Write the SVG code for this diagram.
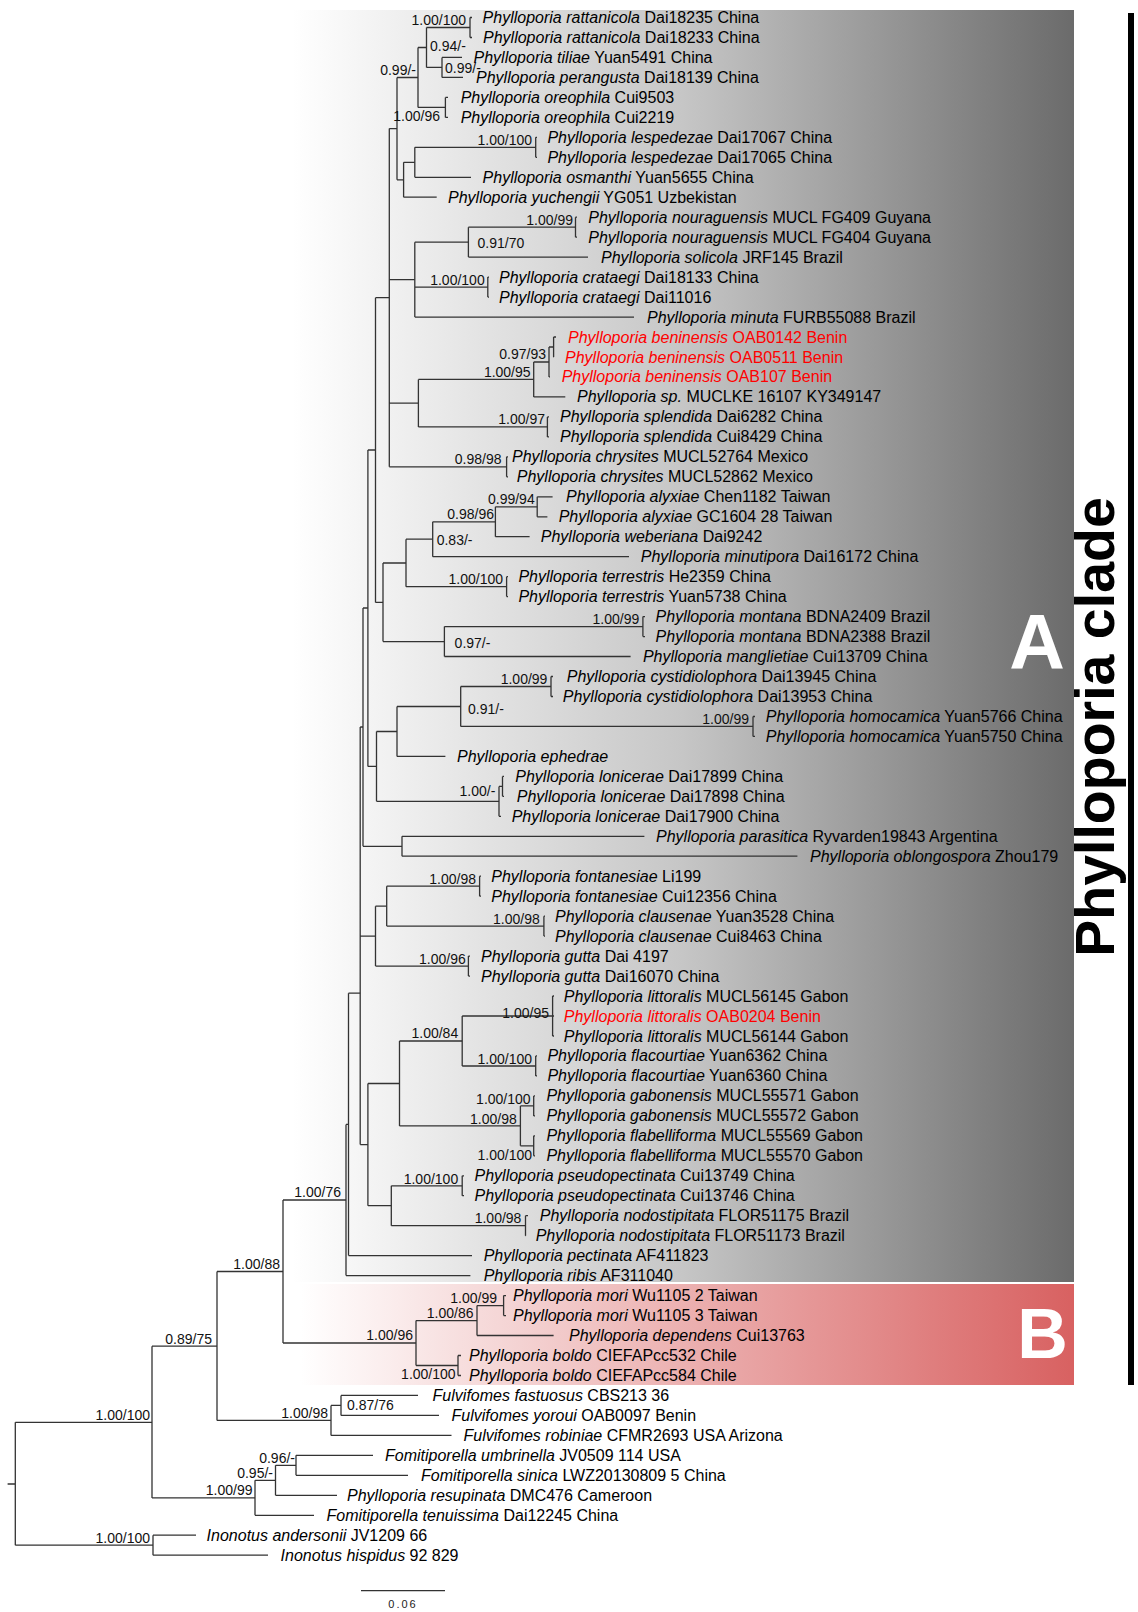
<svg xmlns="http://www.w3.org/2000/svg" width="1138" height="1612" viewBox="0 0 1138 1612">
<defs>
<linearGradient id="gA" x1="292" y1="0" x2="1074" y2="0" gradientUnits="userSpaceOnUse">
<stop offset="0" stop-color="#ffffff"/><stop offset="0.5" stop-color="#c6c6c6"/><stop offset="1" stop-color="#6b6b6b"/>
</linearGradient>
<linearGradient id="gB" x1="300" y1="0" x2="1074" y2="0" gradientUnits="userSpaceOnUse">
<stop offset="0" stop-color="#ffffff"/><stop offset="1" stop-color="#d86161"/>
</linearGradient>
<style>
.lf{font-family:"Liberation Sans",Arial,sans-serif;font-size:16px;fill:#000}
.sp{font-style:italic}
.red{fill:#ff0000}
.bs{font-family:"Liberation Sans",Arial,sans-serif;font-size:14px;fill:#111}
.be{text-anchor:end}
.br{fill:none;stroke:#333;stroke-width:1.3}
.big{font-family:"Liberation Sans",Arial,sans-serif;font-weight:bold;fill:#fff}
</style>
</defs>
<rect width="1138" height="1612" fill="#fff"/>
<g id="clade-boxes">
<rect x="292" y="10" width="782" height="1272" fill="url(#gA)"/>
<rect x="300" y="1284" width="774" height="101" fill="url(#gB)"/>
<text class="big" x="1037" y="669" font-size="77" text-anchor="middle">A</text>
<text class="big" x="1042.5" y="1358" font-size="70" text-anchor="middle">B</text>
<rect x="1128" y="13" width="6" height="1372" fill="#000"/>
<text x="1114" y="727" transform="rotate(-90 1114 727)" text-anchor="middle" font-family="Liberation Sans,Arial,sans-serif" font-weight="bold" font-size="55.5" fill="#000">Phylloporia clade</text>
</g>
<g id="connectors" class="br">
<path d="M7.6,1484H15.3M15.3,1422.3V1545.2M15.3,1422.3H152M15.3,1545.2H153"/>
<path d="M153,1535.2V1555.2M153,1535.2H196M153,1555.2H268"/>
<path d="M152,1346.2V1497.9M152,1346.2H217M152,1497.9H255"/>
<path d="M255,1480.3V1515.3M255,1480.3H275.5M255,1515.3H314"/>
<path d="M275.5,1465.3V1495.3M275.5,1465.3H296M275.5,1495.3H337"/>
<path d="M296,1455.3V1475.3M296,1455.3H373M296,1475.3H408"/>
<path d="M217,1271.5V1420.4M217,1271.5H283M217,1420.4H331"/>
<path d="M331,1405.4V1435.4M331,1405.4H341M331,1435.4H451.5"/>
<path d="M341,1395.4V1415.4M341,1395.4H418M341,1415.4H439"/>
<path d="M283,1200V1343M283,1200H346M283,1343H416"/>
<path d="M416,1320.6V1365.5M416,1320.6H477M416,1365.5H458"/>
<path d="M477,1305.6V1335.5M477,1305.6H503.6M477,1335.5H553.6"/>
<path d="M503.6,1295.6V1315.6M503.6,1295.6H506M503.6,1315.6H506"/>
<path d="M458,1355.5V1375.5M458,1355.5H461M458,1375.5H461"/>
<path d="M346,1124.4V1275.6M346,1124.4H348.5M346,1275.6H470.4"/>
<path d="M348.5,993.2V1255.6M348.5,993.2H360.2M348.5,1255.6H472"/>
<path d="M360.2,727V1144.6M360.2,727H363M360.2,936.2H375.5M360.2,1144.6H367.9"/>
<path d="M367.9,1083.5V1205.7M367.9,1083.5H399.5M367.9,1205.7H391.3"/>
<path d="M399.5,1041V1125.9M399.5,1041H462.2M399.5,1125.9H520.4"/>
<path d="M462.2,1016V1066M462.2,1016H552.6M462.2,1066H535.7"/>
<path d="M552.6,996V1036M552.6,996H554M552.6,1016H554M552.6,1036H554"/>
<path d="M535.7,1055.9V1075.9M535.7,1055.9H537M535.7,1075.9H537"/>
<path d="M520.4,1105.9V1145.8M520.4,1105.9H533.7M520.4,1145.8H533.7"/>
<path d="M533.7,1095.9V1115.9M533.7,1095.9H535M533.7,1115.9H535"/>
<path d="M533.7,1135.8V1155.8M533.7,1135.8H535M533.7,1155.8H535"/>
<path d="M391.3,1185.8V1225.7M391.3,1185.8H462.2M391.3,1225.7H525.5"/>
<path d="M462.2,1175.8V1195.7M462.2,1175.8H464M462.2,1195.7H464"/>
<path d="M525.5,1215.7V1235.7M525.5,1215.7H528M525.5,1235.7H526"/>
<path d="M375.5,906.2V966.1M375.5,906.2H386.7M375.5,966.1H468.4"/>
<path d="M386.7,886.2V926.1M386.7,886.2H479.6M386.7,926.1H543.9"/>
<path d="M479.6,876.2V896.2M479.6,876.2H481M479.6,896.2H481"/>
<path d="M543.9,916.2V936.1M543.9,916.2H545M543.9,936.1H545"/>
<path d="M468.4,956.1V976.1M468.4,956.1H470M468.4,976.1H470"/>
<path d="M363,608V846.3M363,608H367.9M363,846.3H402"/>
<path d="M402,836.3V856.2M402,836.3H644.4M402,856.2H797.4"/>
<path d="M367.9,450V766.4M367.9,450H375.5M367.9,766.4H376.5"/>
<path d="M376.5,731.5V801.3M376.5,731.5H397M376.5,801.3H499"/>
<path d="M397,706.5V756.4M397,706.5H460.7M397,756.4H445.4"/>
<path d="M460.7,686.5V726.4M460.7,686.5H551M460.7,726.4H753"/>
<path d="M551,676.5V696.5M551,676.5H553M551,696.5H553"/>
<path d="M753,716.5V736.4M753,716.5H755M753,736.4H755"/>
<path d="M499,786.4V816.3M499,786.4H502.5M499,816.3H501"/>
<path d="M502.5,776.4V796.3M502.5,776.4H504M502.5,796.3H504"/>
<path d="M375.5,297.7V602.4M375.5,297.7H389.3M375.5,602.4H383"/>
<path d="M383,563V641.6M383,563H406M383,641.6H444.4"/>
<path d="M406,539.2V586.7M406,539.2H432.7M406,586.7H506.6"/>
<path d="M432.7,521.8V556.7M432.7,521.8H495.4M432.7,556.7H629"/>
<path d="M495.4,506.8V536.7M495.4,506.8H537.2M495.4,536.7H529.6"/>
<path d="M537.2,496.8V516.8M537.2,496.8H552.6M537.2,516.8H547.4"/>
<path d="M506.6,576.7V596.6M506.6,576.7H508M506.6,596.6H508"/>
<path d="M444.4,626.6V656.5M444.4,626.6H642.9M444.4,656.5H630.6"/>
<path d="M642.9,616.6V636.6M642.9,616.6H645M642.9,636.6H645"/>
<path d="M389.3,128.6V466.8M389.3,128.6H397M389.3,279.6H414.8M389.3,403.2H418.4M389.3,466.8H506.6"/>
<path d="M397,77.5V179.8M397,77.5H418M397,179.8H403.6"/>
<path d="M403.6,162.3V197.2M403.6,162.3H414.8M403.6,197.2H436.7"/>
<path d="M414.8,147.3V177.3M414.8,147.3H535.7M414.8,177.3H471"/>
<path d="M535.7,137.3V157.3M535.7,137.3H537M535.7,157.3H537"/>
<path d="M418,47.5V107.4M418,47.5H426.5M418,107.4H445.4"/>
<path d="M426.5,27.5V67.4M426.5,27.5H470M426.5,67.4H442"/>
<path d="M470,17.5V37.5M470,17.5H472M470,37.5H472"/>
<path d="M442,57.4V77.4M442,57.4H462M442,77.4H463"/>
<path d="M445.4,97.4V117.4M445.4,97.4H448M445.4,117.4H448"/>
<path d="M414.8,242.2V317.1M414.8,242.2H468.4M414.8,287.1H487.8M414.8,317.1H634"/>
<path d="M468.4,227.2V257.1M468.4,227.2H575.5M468.4,257.1H588"/>
<path d="M575.5,217.2V237.2M575.5,217.2H577M575.5,237.2H577"/>
<path d="M487.8,277.1V297.1M487.8,277.1H489M487.8,297.1H489"/>
<path d="M418.4,379.4V426.9M418.4,379.4H533.7M418.4,426.9H547.4"/>
<path d="M533.7,362V396.9M533.7,362H549M533.7,396.9H565.3"/>
<path d="M549,347V376.9M549,347H553.6M549,376.9H550"/>
<path d="M553.6,337V357M553.6,337H556M553.6,357H554"/>
<path d="M547.4,416.9V436.9M547.4,416.9H549M547.4,436.9H549"/>
<path d="M506.6,456.8V476.8M506.6,456.8H508M506.6,476.8H508"/>
<path d="M361,1590.7H445"/>
</g>
<g id="support-values" class="bs">
<text class="be" x="466" y="25">1.00/100</text>
<text x="430" y="51">0.94/-</text>
<text x="445" y="73">0.99/-</text>
<text class="be" x="416" y="75">0.99/-</text>
<text class="be" x="440" y="121">1.00/96</text>
<text class="be" x="532" y="144.5">1.00/100</text>
<text class="be" x="573" y="224.5">1.00/99</text>
<text x="477.5" y="247.5">0.91/70</text>
<text class="be" x="484.7" y="284.5">1.00/100</text>
<text class="be" x="546" y="359">0.97/93</text>
<text class="be" x="530.6" y="376.5">1.00/95</text>
<text class="be" x="545" y="424">1.00/97</text>
<text class="be" x="501.5" y="464">0.98/98</text>
<text class="be" x="534.7" y="504">0.99/94</text>
<text class="be" x="494" y="519">0.98/96</text>
<text x="436.7" y="544.5">0.83/-</text>
<text class="be" x="503" y="584">1.00/100</text>
<text class="be" x="639.3" y="624">1.00/99</text>
<text x="454.6" y="648">0.97/-</text>
<text class="be" x="547.4" y="684">1.00/99</text>
<text x="468" y="713.5">0.91/-</text>
<text class="be" x="749" y="724">1.00/99</text>
<text class="be" x="495.4" y="796">1.00/-</text>
<text class="be" x="476" y="883.5">1.00/98</text>
<text class="be" x="539.8" y="923.5">1.00/98</text>
<text class="be" x="465.8" y="963.5">1.00/96</text>
<text class="be" x="549" y="1018">1.00/95</text>
<text class="be" x="458.2" y="1038">1.00/84</text>
<text class="be" x="532" y="1063.5">1.00/100</text>
<text class="be" x="530.6" y="1103.5">1.00/100</text>
<text class="be" x="516.8" y="1123.5">1.00/98</text>
<text class="be" x="532" y="1160">1.00/100</text>
<text class="be" x="458.2" y="1183.5">1.00/100</text>
<text class="be" x="521.4" y="1223">1.00/98</text>
<text class="be" x="341" y="1197">1.00/76</text>
<text class="be" x="280" y="1268.5">1.00/88</text>
<text class="be" x="497" y="1303">1.00/99</text>
<text class="be" x="473.5" y="1318">1.00/86</text>
<text class="be" x="413" y="1340">1.00/96</text>
<text class="be" x="455.6" y="1379">1.00/100</text>
<text x="347" y="1410">0.87/76</text>
<text class="be" x="328" y="1417.5">1.00/98</text>
<text class="be" x="212" y="1343.5">0.89/75</text>
<text class="be" x="150" y="1419.5">1.00/100</text>
<text class="be" x="295" y="1462.5">0.96/-</text>
<text class="be" x="273" y="1477.5">0.95/-</text>
<text class="be" x="252.5" y="1495">1.00/99</text>
<text class="be" x="150" y="1542.5">1.00/100</text>
</g>
<g id="scale">
<text x="403" y="1608" text-anchor="middle" font-family="Liberation Sans,Arial,sans-serif" font-size="11" letter-spacing="2" fill="#222">0.06</text>
</g>
<g id="taxa" class="lf">
<g id="t00"><text x="482.6" y="23"><tspan class="sp">Phylloporia rattanicola</tspan> Dai18235 China</text></g>
<g id="t01"><text x="483" y="43"><tspan class="sp">Phylloporia rattanicola</tspan> Dai18233 China</text></g>
<g id="t02"><text x="473.5" y="62.9"><tspan class="sp">Phylloporia tiliae</tspan> Yuan5491 China</text></g>
<g id="t03"><text x="476" y="82.9"><tspan class="sp">Phylloporia perangusta</tspan> Dai18139 China</text></g>
<g id="t04"><text x="460.7" y="102.9"><tspan class="sp">Phylloporia oreophila</tspan> Cui9503</text></g>
<g id="t05"><text x="460.7" y="122.9"><tspan class="sp">Phylloporia oreophila</tspan> Cui2219</text></g>
<g id="t06"><text x="547.4" y="142.8"><tspan class="sp">Phylloporia lespedezae</tspan> Dai17067 China</text></g>
<g id="t07"><text x="547.4" y="162.8"><tspan class="sp">Phylloporia lespedezae</tspan> Dai17065 China</text></g>
<g id="t08"><text x="482.6" y="182.8"><tspan class="sp">Phylloporia osmanthi</tspan> Yuan5655 China</text></g>
<g id="t09"><text x="448" y="202.7"><tspan class="sp">Phylloporia yuchengii</tspan> YG051 Uzbekistan</text></g>
<g id="t10"><text x="588.3" y="222.7"><tspan class="sp">Phylloporia nouraguensis</tspan> MUCL FG409 Guyana</text></g>
<g id="t11"><text x="588.3" y="242.7"><tspan class="sp">Phylloporia nouraguensis</tspan> MUCL FG404 Guyana</text></g>
<g id="t12"><text x="601" y="262.6"><tspan class="sp">Phylloporia solicola</tspan> JRF145 Brazil</text></g>
<g id="t13"><text x="499" y="282.6"><tspan class="sp">Phylloporia crataegi</tspan> Dai18133 China</text></g>
<g id="t14"><text x="499" y="302.6"><tspan class="sp">Phylloporia crataegi</tspan> Dai11016</text></g>
<g id="t15"><text x="647" y="322.6"><tspan class="sp">Phylloporia minuta</tspan> FURB55088 Brazil</text></g>
<g id="t16"><text class="red" x="568" y="342.5"><tspan class="sp">Phylloporia beninensis</tspan> OAB0142 Benin</text></g>
<g id="t17"><text class="red" x="565" y="362.5"><tspan class="sp">Phylloporia beninensis</tspan> OAB0511 Benin</text></g>
<g id="t18"><text class="red" x="561.7" y="382.4"><tspan class="sp">Phylloporia beninensis</tspan> OAB107 Benin</text></g>
<g id="t19"><text x="577" y="402.4"><tspan class="sp">Phylloporia sp.</tspan> MUCLKE 16107 KY349147</text></g>
<g id="t20"><text x="560" y="422.4"><tspan class="sp">Phylloporia splendida</tspan> Dai6282 China</text></g>
<g id="t21"><text x="560" y="442.4"><tspan class="sp">Phylloporia splendida</tspan> Cui8429 China</text></g>
<g id="t22"><text x="512" y="462.3"><tspan class="sp">Phylloporia chrysites</tspan> MUCL52764 Mexico</text></g>
<g id="t23"><text x="516.8" y="482.3"><tspan class="sp">Phylloporia chrysites</tspan> MUCL52862 Mexico</text></g>
<g id="t24"><text x="566" y="502.3"><tspan class="sp">Phylloporia alyxiae</tspan> Chen1182 Taiwan</text></g>
<g id="t25"><text x="558.7" y="522.3"><tspan class="sp">Phylloporia alyxiae</tspan> GC1604 28 Taiwan</text></g>
<g id="t26"><text x="540.8" y="542.2"><tspan class="sp">Phylloporia weberiana</tspan> Dai9242</text></g>
<g id="t27"><text x="640.8" y="562.2"><tspan class="sp">Phylloporia minutipora</tspan> Dai16172 China</text></g>
<g id="t28"><text x="518.4" y="582.2"><tspan class="sp">Phylloporia terrestris</tspan> He2359 China</text></g>
<g id="t29"><text x="518.4" y="602.1"><tspan class="sp">Phylloporia terrestris</tspan> Yuan5738 China</text></g>
<g id="t30"><text x="655.6" y="622.1"><tspan class="sp">Phylloporia montana</tspan> BDNA2409 Brazil</text></g>
<g id="t31"><text x="655.6" y="642.1"><tspan class="sp">Phylloporia montana</tspan> BDNA2388 Brazil</text></g>
<g id="t32"><text x="642.9" y="662"><tspan class="sp">Phylloporia manglietiae</tspan> Cui13709 China</text></g>
<g id="t33"><text x="566.8" y="682"><tspan class="sp">Phylloporia cystidiolophora</tspan> Dai13945 China</text></g>
<g id="t34"><text x="562.8" y="702"><tspan class="sp">Phylloporia cystidiolophora</tspan> Dai13953 China</text></g>
<g id="t35"><text x="765.8" y="722"><tspan class="sp">Phylloporia homocamica</tspan> Yuan5766 China</text></g>
<g id="t36"><text x="765.8" y="741.9"><tspan class="sp">Phylloporia homocamica</tspan> Yuan5750 China</text></g>
<g id="t37"><text x="457" y="761.9"><tspan class="sp">Phylloporia ephedrae</tspan></text></g>
<g id="t38"><text x="515.3" y="781.9"><tspan class="sp">Phylloporia lonicerae</tspan> Dai17899 China</text></g>
<g id="t39"><text x="516.8" y="801.8"><tspan class="sp">Phylloporia lonicerae</tspan> Dai17898 China</text></g>
<g id="t40"><text x="511.7" y="821.8"><tspan class="sp">Phylloporia lonicerae</tspan> Dai17900 China</text></g>
<g id="t41"><text x="656" y="841.8"><tspan class="sp">Phylloporia parasitica</tspan> Ryvarden19843 Argentina</text></g>
<g id="t42"><text x="810" y="861.7"><tspan class="sp">Phylloporia oblongospora</tspan> Zhou179</text></g>
<g id="t43"><text x="491.3" y="881.7"><tspan class="sp">Phylloporia fontanesiae</tspan> Li199</text></g>
<g id="t44"><text x="491.3" y="901.7"><tspan class="sp">Phylloporia fontanesiae</tspan> Cui12356 China</text></g>
<g id="t45"><text x="555" y="921.7"><tspan class="sp">Phylloporia clausenae</tspan> Yuan3528 China</text></g>
<g id="t46"><text x="555" y="941.6"><tspan class="sp">Phylloporia clausenae</tspan> Cui8463 China</text></g>
<g id="t47"><text x="481" y="961.6"><tspan class="sp">Phylloporia gutta</tspan> Dai 4197</text></g>
<g id="t48"><text x="481" y="981.6"><tspan class="sp">Phylloporia gutta</tspan> Dai16070 China</text></g>
<g id="t49"><text x="563.8" y="1001.5"><tspan class="sp">Phylloporia littoralis</tspan> MUCL56145 Gabon</text></g>
<g id="t50"><text class="red" x="563.8" y="1021.5"><tspan class="sp">Phylloporia littoralis</tspan> OAB0204 Benin</text></g>
<g id="t51"><text x="563.8" y="1041.5"><tspan class="sp">Phylloporia littoralis</tspan> MUCL56144 Gabon</text></g>
<g id="t52"><text x="547.4" y="1061.4"><tspan class="sp">Phylloporia flacourtiae</tspan> Yuan6362 China</text></g>
<g id="t53"><text x="547.4" y="1081.4"><tspan class="sp">Phylloporia flacourtiae</tspan> Yuan6360 China</text></g>
<g id="t54"><text x="546.4" y="1101.4"><tspan class="sp">Phylloporia gabonensis</tspan> MUCL55571 Gabon</text></g>
<g id="t55"><text x="546.4" y="1121.4"><tspan class="sp">Phylloporia gabonensis</tspan> MUCL55572 Gabon</text></g>
<g id="t56"><text x="546.4" y="1141.3"><tspan class="sp">Phylloporia flabelliforma</tspan> MUCL55569 Gabon</text></g>
<g id="t57"><text x="546.4" y="1161.3"><tspan class="sp">Phylloporia flabelliforma</tspan> MUCL55570 Gabon</text></g>
<g id="t58"><text x="474.5" y="1181.3"><tspan class="sp">Phylloporia pseudopectinata</tspan> Cui13749 China</text></g>
<g id="t59"><text x="474.5" y="1201.2"><tspan class="sp">Phylloporia pseudopectinata</tspan> Cui13746 China</text></g>
<g id="t60"><text x="539.8" y="1221.2"><tspan class="sp">Phylloporia nodostipitata</tspan> FLOR51175 Brazil</text></g>
<g id="t61"><text x="535.7" y="1241.2"><tspan class="sp">Phylloporia nodostipitata</tspan> FLOR51173 Brazil</text></g>
<g id="t62"><text x="483.7" y="1261.1"><tspan class="sp">Phylloporia pectinata</tspan> AF411823</text></g>
<g id="t63"><text x="483.7" y="1281.1"><tspan class="sp">Phylloporia ribis</tspan> AF311040</text></g>
<g id="t64"><text x="513" y="1301.1"><tspan class="sp">Phylloporia mori</tspan> Wu1105 2 Taiwan</text></g>
<g id="t65"><text x="513" y="1321.1"><tspan class="sp">Phylloporia mori</tspan> Wu1105 3 Taiwan</text></g>
<g id="t66"><text x="569" y="1341"><tspan class="sp">Phylloporia dependens</tspan> Cui13763</text></g>
<g id="t67"><text x="469" y="1361"><tspan class="sp">Phylloporia boldo</tspan> CIEFAPcc532 Chile</text></g>
<g id="t68"><text x="469" y="1381"><tspan class="sp">Phylloporia boldo</tspan> CIEFAPcc584 Chile</text></g>
<g id="t69"><text x="432.6" y="1400.9"><tspan class="sp">Fulvifomes fastuosus</tspan> CBS213 36</text></g>
<g id="t70"><text x="451.5" y="1420.9"><tspan class="sp">Fulvifomes yoroui</tspan> OAB0097 Benin</text></g>
<g id="t71"><text x="463.5" y="1440.9"><tspan class="sp">Fulvifomes robiniae</tspan> CFMR2693 USA Arizona</text></g>
<g id="t72"><text x="385" y="1460.8"><tspan class="sp">Fomitiporella umbrinella</tspan> JV0509 114 USA</text></g>
<g id="t73"><text x="421" y="1480.8"><tspan class="sp">Fomitiporella sinica</tspan> LWZ20130809 5 China</text></g>
<g id="t74"><text x="347" y="1500.8"><tspan class="sp">Phylloporia resupinata</tspan> DMC476 Cameroon</text></g>
<g id="t75"><text x="326.5" y="1520.8"><tspan class="sp">Fomitiporella tenuissima</tspan> Dai12245 China</text></g>
<g id="t76"><text x="206.6" y="1540.7"><tspan class="sp">Inonotus andersonii</tspan> JV1209 66</text></g>
<g id="t77"><text x="280.6" y="1560.7"><tspan class="sp">Inonotus hispidus</tspan> 92 829</text></g>
</g>
</svg>
